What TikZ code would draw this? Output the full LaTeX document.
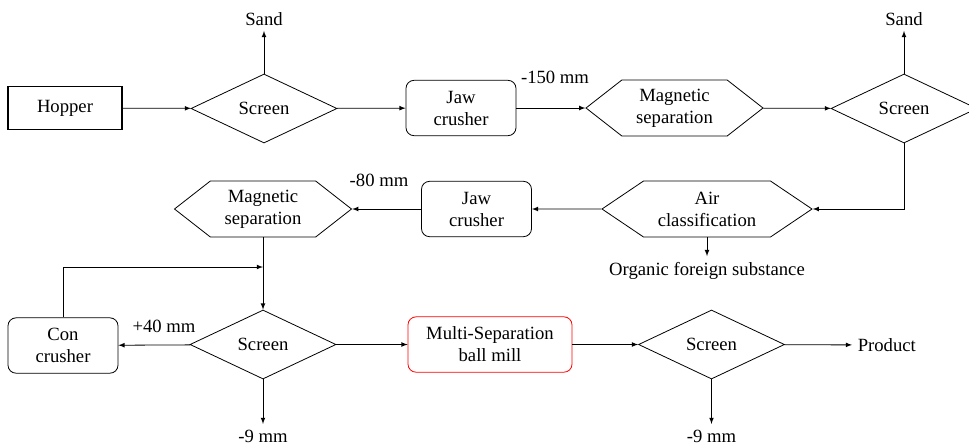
\documentclass[tikz,border=0pt]{standalone}
\usepackage{fontspec}
\setmainfont{Liberation Serif}
\usetikzlibrary{shapes,arrows}
\usetikzlibrary{positioning}

\begin{document}
\begin{tikzpicture}[x=.75pt,y=-.75pt,>=latex,line width=.6pt,
  every node/.style={font=\rmfamily\fontsize{14}{16.5}\selectfont,align=center,inner sep=0pt},
  feed/.style={draw,line width=.8pt,minimum width=85.5pt,minimum height=32.25pt},
  unit/.style={draw,rounded corners=6pt,minimum width=#1,minimum height=41.5pt},
  screen/.style={diamond,draw,minimum width=109.5pt,minimum height=51.75pt},
  separ/.style={signal,signal to=west and east,draw,signal pointer angle=#1,
    minimum width=132.75pt,minimum height=42pt},
  tag/.style={inner sep=4pt}]

  \useasboundingbox (0,0) rectangle (969,447);

  % top line
  \node[feed] (hopper) at (65,108) {Hopper};
  \node[screen] (scr1) at (264,108.5) {Screen};
  \node[unit=82.5pt] (jaw1) at (461,108) {Jaw\\crusher};
  \node[separ=76] (mag1) at (674.5,108) {Magnetic\\separation};
  \node[screen] (scr2) at (904,108.5) {Screen};
  \node[tag,anchor=base] (sand1) at (264,25) {Sand};
  \node[tag,anchor=base] (sand2) at (904,25) {Sand};
  \node[anchor=base] (cut150) at (555,83) {-150 mm};

  % middle line
  \node[separ=68,minimum width=157.5pt] (air) at (707,209) {Air\\classification};
  \node[unit=82.5pt] (jaw2) at (476.5,209) {Jaw\\crusher};
  \node[separ=76] (mag2) at (263,209) {Magnetic\\separation};
  \node[tag,anchor=base] (organic) at (707,275) {Organic foreign substance};
  \node[anchor=base] (cut80) at (379,186) {-80 mm};

  % bottom line
  \node[screen] (scr3) at (263,344.5) {Screen};
  \node[unit=82.5pt] (con) at (63,345.5) {Con\\crusher};
  \node[unit=123pt,draw=red] (mill) at (490,344.5) {Multi-Separation\\ball mill};
  \node[screen] (scr4) at (711.5,344.5) {Screen};
  \node[tag,anchor=west] (product) at (852,345) {Product};
  \node[tag,anchor=base] (fine1) at (263,442) {-9 mm};
  \node[tag,anchor=base] (fine2) at (711.5,442) {-9 mm};
  \node[anchor=base] (cut40) at (164,332) {+40 mm};
  \coordinate (join) at (263,267);

  % flow
  \draw[->] (hopper) -- (scr1);
  \draw[->] (scr1.north) -- (sand1.south);
  \draw[->] (scr1) -- (jaw1);
  \draw[->] (jaw1) -- (mag1);
  \draw[->] (mag1) -- (scr2);
  \draw[->] (scr2.north) -- (sand2.south);
  \draw[->] (scr2.south) |- (air.east);
  \draw[->] (air.south) -- (organic.north);
  \draw[->] (air) -- (jaw2);
  \draw[->] (jaw2) -- (mag2);
  \draw[->] (mag2.south) -- (scr3.north);
  \draw[->] (con.north) |- (join);
  \draw[->] (scr3) -- (con);
  \draw[->] (scr3.south) -- (fine1.north);
  \draw[->] (scr3) -- (mill);
  \draw[->] (mill) -- (scr4);
  \draw[->] (scr4) -- (product);
  \draw[->] (scr4.south) -- (fine2.north);
\end{tikzpicture}
\end{document}
